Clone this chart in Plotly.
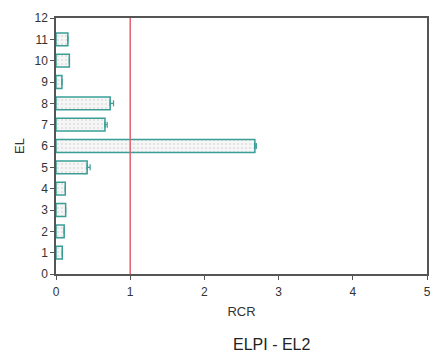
import plotly.graph_objects as go

levels = [1, 2, 3, 4, 5, 6, 7, 8, 9, 10, 11]
rcr = [0.085, 0.11, 0.13, 0.125, 0.42, 2.68, 0.66, 0.73, 0.08, 0.18, 0.16]
err = [0.0, 0.0, 0.0, 0.0, 0.04, 0.02, 0.03, 0.045, 0.0, 0.0, 0.0]
x_ticks = [0, 1, 2, 3, 4, 5]
y_ticks = list(range(0, 13))
ref_value = 1

teal = "#3a9e96"
font = "Liberation Sans, Arial"
fig = go.Figure()
fig.add_trace(go.Bar(
    x=rcr, y=levels, orientation="h", width=0.6,
    marker=dict(color="#f4f4f4", line=dict(color=teal, width=1.5),
                pattern=dict(shape=".", fgcolor="#c8c8c8", bgcolor="#f6f6f6", size=4, solidity=0.2)),
    error_x=dict(type="data", array=err, symmetric=False, color=teal, thickness=1.2, width=3),
    showlegend=False,
))
fig.add_shape(type="line", x0=ref_value, x1=ref_value, y0=0, y1=12, xref="x", yref="y",
              line=dict(color="#e06070", width=1.5))
axis_common = dict(showline=True, linecolor="#555555", linewidth=1.5, mirror=True,
                   ticks="outside", ticklen=4, tickcolor="#555555", showgrid=False, zeroline=False,
                   tickfont=dict(family=font, size=12, color="#333333"))
fig.update_xaxes(range=[0, 5], tickvals=x_ticks, ticklabelstandoff=2,
                 title=dict(text="RCR", font=dict(family=font, size=13, color="#333333"), standoff=9),
                 **axis_common)
fig.update_yaxes(range=[0, 12], tickvals=y_ticks, ticklabelstandoff=0,
                 title=dict(text="EL", font=dict(family=font, size=13, color="#333333"), standoff=7),
                 **axis_common)
fig.add_annotation(text="ELPI - EL2", xref="paper", yref="paper", x=0.58, y=-0.275,
                   xanchor="center", yanchor="middle", showarrow=False,
                   font=dict(family=font, size=16, color="#222222"))
fig.update_layout(width=442, height=357, margin=dict(l=56, r=14, t=11, b=83),
                  paper_bgcolor="white", plot_bgcolor="white", bargap=0.4)
fig.write_html("out.html", config={"displayModeBar": False},
               post_script="document.body.style.margin='0';")
